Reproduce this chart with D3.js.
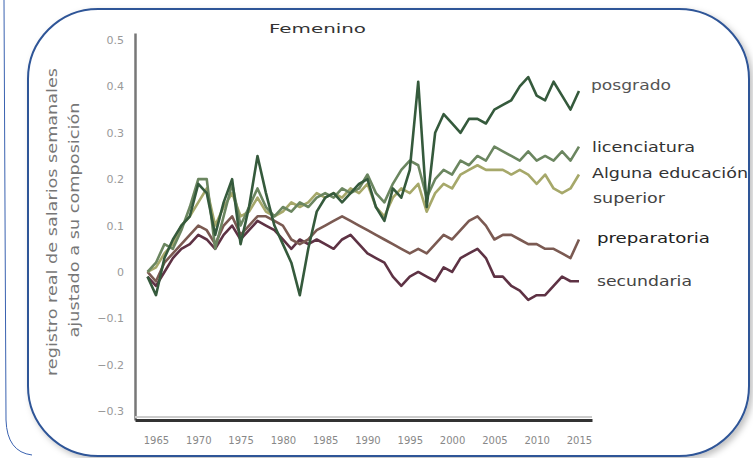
<!DOCTYPE html>
<html><head><meta charset="utf-8">
<script src="https://cdn.jsdelivr.net/npm/d3@7"></script>
<style>
html,body{margin:0;padding:0;background:#fff;}
svg{display:block;}
</style></head>
<body>
<svg id="chart" width="753" height="458"></svg>
<script>
const years = d3.range(1964, 2016);
const posgrado = [-0.01,-0.05,0.03,0.07,0.10,0.12,0.19,0.17,0.08,0.15,0.20,0.06,0.14,0.25,0.17,0.10,0.06,0.02,-0.05,0.05,0.13,0.16,0.17,0.15,0.17,0.19,0.20,0.14,0.11,0.18,0.16,0.22,0.41,0.14,0.30,0.34,0.32,0.30,0.33,0.33,0.32,0.35,0.36,0.37,0.40,0.42,0.38,0.37,0.41,0.38,0.35,0.39];
const licenciatura = [0.00,0.02,0.06,0.05,0.09,0.14,0.20,0.20,0.05,0.12,0.19,0.10,0.14,0.18,0.14,0.12,0.14,0.13,0.15,0.14,0.16,0.17,0.16,0.18,0.17,0.18,0.21,0.17,0.15,0.19,0.22,0.24,0.23,0.16,0.20,0.22,0.21,0.24,0.23,0.25,0.24,0.27,0.26,0.25,0.24,0.26,0.24,0.25,0.24,0.26,0.24,0.27];
const algunaSuperior = [0.00,0.01,0.04,0.06,0.10,0.12,0.15,0.18,0.10,0.14,0.17,0.12,0.13,0.16,0.13,0.12,0.13,0.15,0.14,0.15,0.17,0.16,0.17,0.16,0.18,0.17,0.19,0.14,0.12,0.16,0.18,0.17,0.19,0.13,0.17,0.19,0.18,0.21,0.22,0.23,0.22,0.22,0.22,0.21,0.22,0.21,0.19,0.21,0.18,0.17,0.18,0.21];
const preparatoria = [0.00,-0.02,0.02,0.04,0.06,0.08,0.10,0.09,0.06,0.10,0.12,0.08,0.10,0.12,0.12,0.11,0.10,0.07,0.06,0.07,0.09,0.10,0.11,0.12,0.11,0.10,0.09,0.08,0.07,0.06,0.05,0.04,0.05,0.04,0.06,0.08,0.07,0.09,0.11,0.12,0.10,0.07,0.08,0.08,0.07,0.06,0.06,0.05,0.05,0.04,0.03,0.07];
const secundaria = [-0.01,-0.03,0.00,0.03,0.05,0.06,0.08,0.07,0.05,0.08,0.10,0.07,0.09,0.11,0.10,0.09,0.07,0.05,0.07,0.06,0.07,0.06,0.05,0.07,0.08,0.06,0.04,0.03,0.02,-0.01,-0.03,-0.01,0.00,-0.01,-0.02,0.01,0.00,0.03,0.04,0.05,0.03,-0.01,-0.01,-0.03,-0.04,-0.06,-0.05,-0.05,-0.03,-0.01,-0.02,-0.02];
const seriesNames = ["secundaria","preparatoria","Alguna educación superior","licenciatura","posgrado"];
const xTicks = [1965,1970,1975,1980,1985,1990,1995,2000,2005,2010,2015];
const yTicks = [0.5,0.4,0.3,0.2,0.1,0,-0.1,-0.2,-0.3];
const title = "Femenino";
const yTitle1 = "registro real de salarios semanales";
const yTitle2 = "ajustado a su composición";

const svg = d3.select("#chart");
const defs = svg.append("defs");
const f = defs.append("filter").attr("id","sh").attr("x","-10%").attr("y","-10%").attr("width","120%").attr("height","120%");
f.append("feDropShadow").attr("dx",3).attr("dy",3).attr("stdDeviation",3).attr("flood-color","#000").attr("flood-opacity",0.25);

// outer partial frame
svg.append("path").attr("d","M4,0 L6,420 Q7,452 32,455").attr("fill","none").attr("stroke","#3a62b0").attr("stroke-width",1);
// main rounded frame
svg.append("rect").attr("x",28).attr("y",9).attr("width",721).attr("height",447).attr("rx",70).attr("ry",70)
  .attr("fill","#fff").attr("stroke","#2f5597").attr("stroke-width",2).attr("filter","url(#sh)");

const x = d3.scaleLinear().domain([1962.52, 2016.54]).range([135, 592]);
const y = d3.scaleLinear().domain([-0.319, 0.515]).range([420, 33]);

// axes
const gy = svg.append("g").attr("transform","translate(135,0)")
  .call(d3.axisLeft(y).tickValues(yTicks).tickSize(0).tickPadding(11).tickFormat(d3.format("")));
gy.select(".domain").attr("stroke","#777").attr("stroke-width",2.5);
gy.selectAll("text").attr("font-family","DejaVu Sans, sans-serif").attr("font-size",11).attr("fill","#999");

svg.append("line").attr("x1",135).attr("x2",592).attr("y1",417).attr("y2",417).attr("stroke","#ccc").attr("stroke-width",2);
const gx = svg.append("g").attr("transform","translate(0,420)")
  .call(d3.axisBottom(x).tickValues(xTicks).tickSize(0).tickPadding(17).tickFormat(d3.format("d")));
gx.select(".domain").attr("stroke","#333").attr("stroke-width",3);
gx.selectAll("text").attr("font-family","DejaVu Sans, sans-serif").attr("font-size",10).attr("fill","#888");

// lines
const data = {
  "secundaria": secundaria,
  "preparatoria": preparatoria,
  "Alguna educación superior": algunaSuperior,
  "licenciatura": licenciatura,
  "posgrado": posgrado
};
const colors = {
  "secundaria": "#5e3244",
  "preparatoria": "#7b5a52",
  "Alguna educación superior": "#a6a86a",
  "licenciatura": "#6b8660",
  "posgrado": "#355a3c"
};
const line = d3.line().x((d,i)=>x(years[i])).y(d=>y(d)).curve(d3.curveLinear);
seriesNames.forEach(n=>{
  svg.append("path").datum(data[n]).attr("d",line).attr("fill","none")
    .attr("stroke",colors[n]).attr("stroke-width",2.6).attr("stroke-linejoin","round");
});

// labels
const lab = [
  {t:"posgrado", x:591, y:85, c:"#555", w:80},
  {t:"licenciatura", x:592, y:147, c:"#333", w:103},
  {t:"Alguna educación", x:592, y:173, c:"#333", w:156},
  {t:"superior", x:593, y:198, c:"#444", w:72},
  {t:"preparatoria", x:597, y:238, c:"#222", w:113},
  {t:"secundaria", x:597, y:281, c:"#444", w:95}
];
lab.forEach(l=>{
  svg.append("text").attr("x",l.x).attr("y",l.y).attr("dy","0.35em").text(l.t)
    .attr("font-family","DejaVu Sans, sans-serif").attr("font-size",13.5).attr("fill",l.c)
    .attr("textLength",l.w).attr("lengthAdjust","spacingAndGlyphs");
});

svg.append("text").attr("x",269).attr("y",33).text(title)
  .attr("font-family","DejaVu Sans, sans-serif").attr("font-size",13).attr("fill","#333")
  .attr("textLength",97).attr("lengthAdjust","spacingAndGlyphs");

svg.append("text").attr("transform","translate(57,222) rotate(-90)").attr("text-anchor","middle").text(yTitle1)
  .attr("font-family","DejaVu Sans, sans-serif").attr("font-size",14).attr("fill","#777")
  .attr("textLength",308).attr("lengthAdjust","spacingAndGlyphs");
svg.append("text").attr("transform","translate(79,220) rotate(-90)").attr("text-anchor","middle").text(yTitle2)
  .attr("font-family","DejaVu Sans, sans-serif").attr("font-size",14).attr("fill","#777")
  .attr("textLength",235).attr("lengthAdjust","spacingAndGlyphs");
</script>
</body></html>
